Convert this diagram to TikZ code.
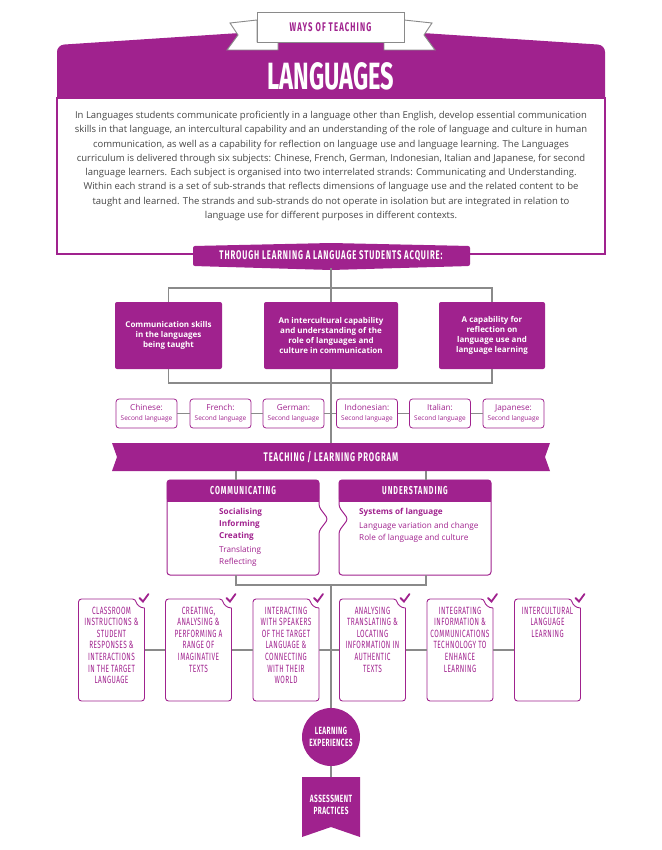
\documentclass[tikz,border=0pt]{standalone}
\usepackage{fontspec}
\setmainfont{Open Sans}
\newfontfamily\headfont[FakeStretch=0.62]{Fira Sans}
\definecolor{lpurple}{HTML}{A0228E}
\definecolor{lgrey}{HTML}{8A8A8A}
\definecolor{ltext}{HTML}{474747}

\begin{document}
\begin{tikzpicture}[x=1pt, y=-1pt]
    \tikzset{
        link/.style={draw=lgrey, line width=1.1},
        head/.style={text=white, inner sep=0, align=center, font=\headfont\bfseries\addfontfeatures{LetterSpace=7}\fontsize{12.5}{14}\selectfont},
        gain/.style={fill=lpurple, rounded corners=2, text=white, align=center, minimum height=67, inner sep=3, font=\bfseries\fontsize{8}{10}\selectfont},
        subject/.style={draw=lpurple, line width=0.8, fill=white, rounded corners=3, minimum width=61, minimum height=29, inner sep=0, align=center, text=lpurple, font=\fontsize{8.2}{10}\selectfont},
        strand/.style={minimum width=152, minimum height=95, inner sep=0},
        item/.style={text=lpurple, align=left, anchor=north west, inner sep=0, font=\fontsize{8.2}{12}\selectfont},
        actbox/.style={minimum width=66, minimum height=102, inner sep=0},
        acttext/.style={text=lpurple, align=center, anchor=north, inner sep=0, font=\headfont\addfontfeatures{LetterSpace=4}\fontsize{10.5}{11.6}\selectfont}
    }
    \useasboundingbox (0,0) rectangle (661,850);

    % header and ribbon
    \fill[lpurple, rounded corners=7] (57,110) -- (57,45) -- (331,27) -- (605,45) -- (605,110) -- cycle;
    \draw[lpurple, line width=2.4, fill=white] (57,98) rectangle (605,254);
    \draw[lgrey, line width=0.9, fill=white] (257,20) -- (230,23) -- (238,35) -- (227,50) -- (278,50) -- (278,42) -- (257,42) -- cycle;
    \draw[lgrey, line width=0.9, fill=white] (404,20) -- (432,23) -- (424,35) -- (435,50) -- (384,50) -- (384,42) -- (404,42) -- cycle;
    \draw[lgrey, line width=0.9, fill=white] (257,12) rectangle (404,42);
    \node[head, text=lpurple, font=\headfont\bfseries\addfontfeatures{LetterSpace=9}\fontsize{12.5}{14}\selectfont] (ways) at (330.5,27) {WAYS OF TEACHING};
    \node[head, font=\headfont\bfseries\fontsize{38}{40}\selectfont] (title) at (331,76) {LANGUAGES};
    \node[text=ltext, align=center, inner sep=0, font=\fontsize{9.5}{14.3}\selectfont] (intro) at (331,166) {In Languages students communicate proficiently in a language other than English, develop essential communication\\
        skills in that language, an intercultural capability and an understanding of the role of language and culture in human\\
        communication, as well as a capability for reflection on language use and language learning. The Languages\\
        curriculum is delivered through six subjects: Chinese, French, German, Indonesian, Italian and Japanese, for second\\
        language learners. Each subject is organised into two interrelated strands: Communicating and Understanding.\\
        Within each strand is a set of sub-strands that reflects dimensions of language use and the related content to be\\
        taught and learned. The strands and sub-strands do not operate in isolation but are integrated in relation to\\
        language use for different purposes in different contexts.};

    % what students acquire
    \fill[lpurple, rounded corners=2] (193,246) -- (331,243) -- (470,246) -- (470,266) -- (331,270) -- (193,266) -- cycle;
    \node[head, minimum width=277, minimum height=24] (acquire) at (331,256) {THROUGH LEARNING A LANGUAGE STUDENTS ACQUIRE:};

    \node[gain, minimum width=107] (skills) at (168.5,335.5) {Communication skills\\in the languages\\being taught};
    \node[gain, minimum width=134] (intercult) at (331,335.5) {An intercultural capability\\and understanding of the\\role of languages and\\culture in communication};
    \node[gain, minimum width=106] (reflect) at (492,335.5) {A capability for\\reflection on\\language use and\\language learning};

    \coordinate (bt) at (331,288);
    \coordinate (bb) at (331,383);
    \draw[link] (acquire) -- (intercult);
    \draw[link] (skills.north) -- (skills.north |- bt) -- (reflect.north |- bt) -- (reflect.north);
    \draw[link] (skills.south) -- (skills.south |- bb) -- (reflect.south |- bb) -- (reflect.south);

    % subjects
    \foreach \n/\cx/\lang in {chinese/146.5/Chinese, french/220.5/French, german/293.5/German,
        indonesian/367/Indonesian, italian/440/Italian, japanese/513.5/Japanese}{
        \node[subject] (\n) at (\cx,413.5) {\lang:\\{\fontsize{6.5}{10}\selectfont Second language}};
    }
    \foreach \x/\y in {%
        chinese/french,french/german,german/indonesian,indonesian/italian,italian/japanese%
    }{
        \draw[link] (\x) -- (\y);
    }

    % teaching / learning program
    \fill[lpurple] (112,443) -- (550,443) -- (545,457) -- (550,471) -- (112,471) -- (117,457) -- cycle;
    \node[head, minimum width=438, minimum height=28] (program) at (331,457) {TEACHING / LEARNING PROGRAM};
    \draw[link] (intercult) -- (program);

    \node[strand] (comm) at (243,527.5) {};
    \node[strand] (under) at (415,527.5) {};
    \fill[lpurple, rounded corners=3] (comm.north west) rectangle ([yshift=-22]comm.north east);
    \fill[lpurple] ([yshift=-14]comm.north west) rectangle ([yshift=-22]comm.north east);
    \fill[lpurple, rounded corners=3] (under.north west) rectangle ([yshift=-22]under.north east);
    \fill[lpurple] ([yshift=-14]under.north west) rectangle ([yshift=-22]under.north east);
    \draw[lpurple, line width=1, rounded corners=3] (167,480) -- (319,480) -- (319,507) -- (328,519) -- (319,531) -- (319,575) -- (167,575) -- cycle;
    \draw[lpurple, line width=1, rounded corners=3] (339,480) -- (491,480) -- (491,575) -- (339,575) -- (339,531) -- (348,519) -- (339,507) -- cycle;
    \node[head, font=\headfont\bfseries\addfontfeatures{LetterSpace=8}\fontsize{11.5}{13}\selectfont] (commh) at (243,491) {COMMUNICATING};
    \node[head, font=\headfont\bfseries\addfontfeatures{LetterSpace=8}\fontsize{11.5}{13}\selectfont] (underh) at (415,491) {UNDERSTANDING};
    \node[item] (commi) at (219,508.5) {\textbf{Socialising}\\\textbf{Informing}\\\textbf{Creating}\\[1.5pt]Translating\\Reflecting};
    \node[item] (underi) at (359,508.5) {\textbf{Systems of language}\\[2pt]Language variation and change\\Role of language and culture};

    \coordinate (sl) at (236,585);
    \coordinate (sm) at (331,585);
    \coordinate (sr) at (426,585);
    \draw[link] (program.south -| sl) -- (comm.north -| sl);
    \draw[link] (program.south -| sr) -- (under.north -| sr);
    \draw[link] (comm.south -| sl) -- (sl) -- (sr) -- (under.south -| sr);

    % learning experiences
    \foreach \n/\cx/\txt in {%
        1/111.5/{CLASSROOM\\INSTRUCTIONS \&\\STUDENT\\RESPONSES \&\\INTERACTIONS\\IN THE TARGET\\LANGUAGE},
        2/198.5/{CREATING,\\ANALYSING \&\\PERFORMING A\\RANGE OF\\IMAGINATIVE\\TEXTS},
        3/286/{INTERACTING\\WITH SPEAKERS\\OF THE TARGET\\LANGUAGE \&\\CONNECTING\\WITH THEIR\\WORLD},
        4/372.5/{ANALYSING\\TRANSLATING \&\\LOCATING\\INFORMATION IN\\AUTHENTIC\\TEXTS},
        5/460/{INTEGRATING\\INFORMATION \&\\COMMUNICATIONS\\TECHNOLOGY TO\\ENHANCE\\LEARNING},
        6/547.5/{INTERCULTURAL\\LANGUAGE\\LEARNING}%
    }{
        \node[actbox] (act\n) at (\cx,650) {};
        \node[acttext] (actt\n) at (\cx,606.5) {\txt};
        \draw[lpurple, line width=0.9, rounded corners=3] (\cx+33,608) -- (\cx+33,701) -- (\cx-33,701) -- (\cx-33,599) -- (\cx+24,599) [sharp corners] .. controls (\cx+25,604) and (\cx+28,608) .. (\cx+33,608);
        \draw[lpurple, line width=1.8, line cap=round] (\cx+28,598) -- (\cx+31.5,601.5) -- (\cx+37,594);
    }
    \foreach \x/\y in {act1/act2, act2/act3, act3/act4, act4/act5, act5/act6}{
        \draw[link] (\x) -- (\y);
    }

    \node[circle, fill=lpurple, minimum size=58, inner sep=0, text=white, align=center, font=\headfont\bfseries\addfontfeatures{LetterSpace=4}\fontsize{10.5}{12}\selectfont] (learn) at (331,737) {LEARNING\\EXPERIENCES};
    \fill[lpurple] (302,777) -- (360,777) -- (360,837) -- (331,827) -- (302,837) -- cycle;
    \node[head, minimum width=58, minimum height=56, font=\headfont\bfseries\addfontfeatures{LetterSpace=4}\fontsize{10.5}{12}\selectfont] (assess) at (331,805) {ASSESSMENT\\PRACTICES};
    \draw[link] (sm) -- (learn);
    \draw[link] (learn) -- (assess.north);
\end{tikzpicture}
\end{document}
